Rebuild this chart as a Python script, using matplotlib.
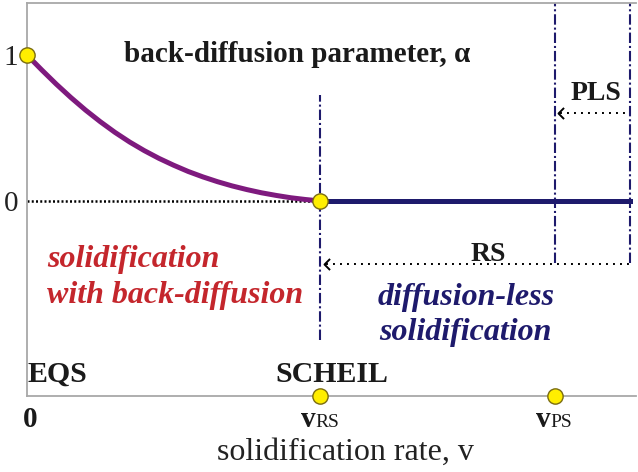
import matplotlib
matplotlib.use("Agg")
import matplotlib.pyplot as plt
from matplotlib.path import Path

# Back-diffusion parameter versus solidification rate
v_curve = [0.0, 0.05, 0.1, 0.15, 0.2, 0.25, 0.3, 0.35, 0.4, 0.45, 0.5,
           0.55, 0.6, 0.65, 0.7, 0.75, 0.8, 0.85, 0.9, 0.95, 1.0]
alpha_curve = [1.0, 0.898, 0.80, 0.708, 0.622, 0.543, 0.47, 0.404, 0.345, 0.292, 0.245,
               0.202, 0.165, 0.132, 0.103, 0.078, 0.056, 0.038, 0.022, 0.01, 0.0]

v_rs = 1.0      # rapid solidification threshold
v_ps = 1.80     # partitionless solidification threshold
v_end = 2.058   # right end of the rate range

key_points_v = [0.0, v_rs]
key_points_alpha = [1.0, 0.0]
axis_points_v = [v_rs, v_ps]

ytick_vals = [0, 1]
ytick_labels = ["0", "1"]

PURPLE = "#7e1a7e"
NAVY = "#1e1a6c"
RED = "#c4262c"
YELLOW = "#ffee00"
YEDGE = "#7a6c10"
GREY = "#a8a8a8"
SERIF = "Liberation Serif"

fig = plt.figure(figsize=(6.38, 4.72), dpi=100)
ax = fig.add_axes([27 / 638, 76 / 472, (636 - 27) / 638, (396 - 3) / 472])
ax.set_xlim(0, 2.078)
ax.set_ylim(-1.336, 1.356)

for side in ("left", "top", "bottom"):
    ax.spines[side].set_color(GREY)
    ax.spines[side].set_linewidth(1.3)
ax.spines["right"].set_visible(False)
ax.set_xticks([])
ax.set_yticks(ytick_vals)
ax.set_yticklabels(ytick_labels, fontfamily=SERIF, fontsize=21, color="#222222")
ax.tick_params(axis="y", length=0, pad=6.5)

# zero reference line
ax.plot([0, v_rs], [0, 0], color="black", lw=1.8, ls=(0, (0.8, 0.9)), zorder=2)

# curve of alpha over the back-diffusion range
ax.plot(v_curve, alpha_curve, color=PURPLE, lw=3.6, solid_capstyle="round",
        solid_joinstyle="round", zorder=3)
# diffusion-less range
ax.plot([v_rs, v_end], [0, 0], color=NAVY, lw=3.6, zorder=3)

# dash-dot boundaries
dashdot = (0, (5, 1.4, 1, 1.4))
ax.plot([v_rs, v_rs], [-0.95, 0.726], color=NAVY, lw=1.5, ls=dashdot, zorder=2)
ax.plot([v_ps, v_ps], [-0.425, 1.356], color=NAVY, lw=1.5, ls=dashdot, zorder=2)
ax.plot([v_end, v_end], [-0.425, 1.356], color=NAVY, lw=1.5, ls=dashdot, zorder=2)

# dotted range arrows
chevron = Path([(1, 1), (0, 0), (1, -1)], [Path.MOVETO, Path.LINETO, Path.LINETO])
y_rs_arrow = -0.43
y_pls_arrow = 0.60
for x0, y0 in ((v_rs, y_rs_arrow), (v_ps, y_pls_arrow)):
    ax.plot([x0 + 0.02, v_end], [y0, y0], color="black", lw=1.4,
            ls=(0, (1, 2.6)), zorder=2)
    ax.plot([x0 + 0.012], [y0], marker=chevron, ms=8, mfc="none", mec="black",
            mew=1.4, zorder=4)

# yellow state markers
ax.plot(key_points_v, key_points_alpha, ls="none", marker="o", ms=11,
        mfc=YELLOW, mec=YEDGE, mew=1.0, zorder=5, clip_on=False)
ax.plot(axis_points_v, [-1.336] * len(axis_points_v), ls="none", marker="o",
        ms=11, mfc=YELLOW, mec=YEDGE, mew=1.0, zorder=5, clip_on=False)

# labels
ax.text(0.33, 0.95, "back-diffusion parameter, α", fontfamily=SERIF,
        fontweight="bold", fontsize=21, color="#1a1a1a", ha="left", va="baseline")
ax.text(1.94, 0.69, "PLS", fontfamily=SERIF, fontweight="bold", fontsize=20,
        color="#1a1a1a", ha="center", va="baseline")
ax.text(1.573, -0.41, "RS", fontfamily=SERIF, fontweight="bold", fontsize=20,
        color="#1a1a1a", ha="center", va="baseline")
ax.text(0.068, -0.45, "solidification", fontfamily=SERIF, fontstyle="italic",
        fontweight="bold", fontsize=23, color=RED, ha="left", va="baseline")
ax.text(0.068, -0.70, "with back-diffusion", fontfamily=SERIF, fontstyle="italic",
        fontweight="bold", fontsize=23, color=RED, ha="left", va="baseline")
ax.text(1.497, -0.71, "diffusion-less", fontfamily=SERIF, fontstyle="italic",
        fontweight="bold", fontsize=23, color=NAVY, ha="center", va="baseline")
ax.text(1.497, -0.95, "solidification", fontfamily=SERIF, fontstyle="italic",
        fontweight="bold", fontsize=23, color=NAVY, ha="center", va="baseline")
ax.text(0.0, -1.24, "EQS", fontfamily=SERIF, fontweight="bold", fontsize=21.5,
        color="#1a1a1a", ha="left", va="baseline")
ax.text(0.846, -1.24, "SCHEIL", fontfamily=SERIF, fontweight="bold", fontsize=21.5,
        color="#1a1a1a", ha="left", va="baseline")

# rate axis labels
y_tick_base = -1.545
ax.text(0.01, y_tick_base, "0", fontfamily=SERIF, fontweight="bold", fontsize=21,
        color="#1a1a1a", ha="center", va="baseline", clip_on=False)
for xv, sub in ((v_rs, "RS"), (v_ps, "PS")):
    ax.text(xv - 0.015, y_tick_base, "v", fontfamily=SERIF, fontweight="bold",
            fontsize=21, color="#1a1a1a", ha="right", va="baseline", clip_on=False)
    ax.text(xv - 0.015, y_tick_base, sub, fontfamily=SERIF, fontsize=14,
            color="#1a1a1a", ha="left", va="baseline", clip_on=False)
ax.text(1.085, -1.77, "solidification rate, v", fontfamily=SERIF, fontsize=23,
        color="#222222", ha="center", va="baseline", clip_on=False)

fig.savefig("out.png", dpi=100)
